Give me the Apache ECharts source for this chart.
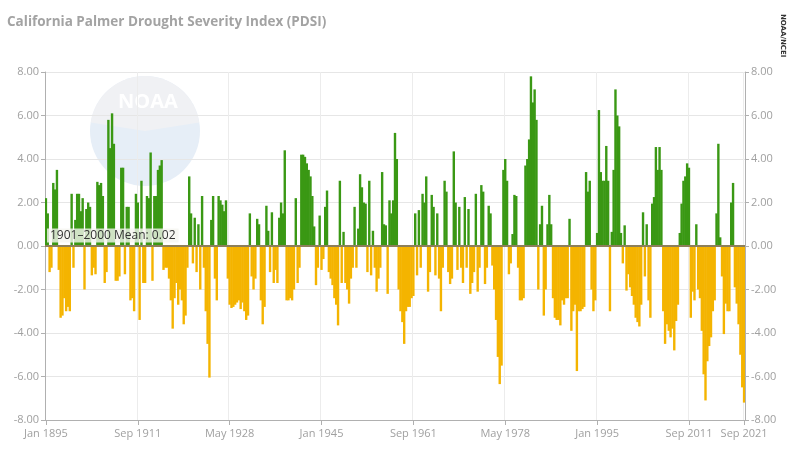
<!DOCTYPE html>
<html>
<head>
<meta charset="utf-8">
<script src="https://cdn.jsdelivr.net/npm/echarts@6/dist/echarts.min.js"></script>
<style>html,body{margin:0;padding:0;background:#fff;}#chart{width:800px;height:465px;}</style>
</head>
<body>
<div id="chart"></div>
<script>
// Time axis: one category every 4 months (Jan, May, Sep) from Jan 1895 to Sep 2021
const startYear = 1895;
const monthNames = ['Jan','Feb','Mar','Apr','May','Jun','Jul','Aug','Sep','Oct','Nov','Dec'];
const stepMonths = 4;
const shownLabels = ['Jan 1895','Sep 1911','May 1928','Jan 1945','Sep 1961','May 1978','Jan 1995','Sep 2011','Sep 2021'];
const yTicks = [-8, -6, -4, -2, 0, 2, 4, 6, 8];
const meanValue = 0.02;
const meanLabel = '1901–2000 Mean: 0.02';

// PDSI values, three per year (Jan–Apr, May–Aug, Sep–Dec)
const pdsi = [
  2.2, 1.5, -1.2,    // 1895
  -1.0, 2.9, 2.6,    // 1896
  3.5, -1.1, -3.3,   // 1897
  -3.2, -2.4, -3.0,  // 1898
  -2.8, -3.0, 2.4,   // 1899
  -1.0, 1.2, 2.4,    // 1900
  2.4, 1.6, 2.2,     // 1901
  -2.0, 1.7, 2.0,    // 1902
  1.8, -1.35, -1.0,  // 1903
  -1.3, 2.95, 2.8,   // 1904
  2.9, 2.3, -1.7,    // 1905
  -1.2, 5.8, 4.5,    // 1906
  6.1, 4.7, -1.6,    // 1907
  -1.6, -1.4, 3.6,   // 1908
  3.6, -1.3, 1.8,    // 1909
  1.8, -2.5, -2.4,   // 1910
  -3.0, 2.4, 2.0,    // 1911
  -3.4, 3.0, -1.7,   // 1912
  -1.7, 2.3, 2.2,    // 1913
  4.3, -1.6, 2.3,    // 1914
  2.3, 3.5, 3.7,     // 1915
  3.95, -1.1, -1.0,  // 1916
  -1.0, -1.5, -2.5,  // 1917
  -3.8, -2.4, -1.7,  // 1918
  -2.7, -2.0, -2.5,  // 1919
  -3.6, -3.2, -1.0,  // 1920
  3.2, 1.5, -0.8,    // 1921
  1.3, -1.2, 1.0,    // 1922
  -2.0, 2.3, -1.0,   // 1923
  -3.0, -4.5, -6.05, // 1924
  1.2, 2.3, -1.5,    // 1925
  -2.5, 2.3, 2.1,    // 1926
  1.9, 1.6, 2.1,     // 1927
  -1.5, -2.7, -2.85, // 1928
  -2.8, -2.7, -2.6,  // 1929
  -2.5, -2.9, -2.6,  // 1930
  -3.0, -3.4, -3.2,  // 1931
  1.5, -1.4, -2.0,   // 1932
  -1.5, 1.25, 1.0,   // 1933
  -2.5, -3.6, -2.8,  // 1934
  1.85, 0.7, -1.2,   // 1935
  1.55, -1.7, -1.1,  // 1936
  -1.7, 1.3, 2.0,    // 1937
  1.5, 4.4, -2.5,    // 1938
  -2.5, -2.4, -2.5,  // 1939
  -2.0, 2.2, -1.7,   // 1940
  -1.0, 4.2, 4.2,    // 1941
  4.1, 3.8, 3.5,     // 1942
  3.2, 2.3, 0.9,     // 1943
  -1.8, -1.0, 1.4,   // 1944
  -1.1, -0.6, 1.8,   // 1945
  2.55, -1.2, -1.5,  // 1946
  -1.8, -2.4, -2.7,  // 1947
  -3.65, 3.0, -1.7,  // 1948
  0.65, -1.7, -2.0,  // 1949
  -2.65, -1.5, -1.0, // 1950
  1.8, -1.0, 0.8,    // 1951
  3.3, 2.7, 2.0,     // 1952
  1.95, -1.2, 3.0,   // 1953
  -1.35, 0.7, -1.0,  // 1954
  -2.1, -1.5, -1.0,  // 1955
  3.4, 1.0, 0.95,    // 1956
  -2.2, 2.1, 1.5,    // 1957
  2.1, 5.2, 4.0,     // 1958
  -2.0, -3.0, -3.5,  // 1959
  -4.5, -3.0, -2.8,  // 1960
  -2.8, -2.4, -2.3,  // 1961
  1.5, -1.35, 1.65,  // 1962
  -1.0, 2.4, 2.0,    // 1963
  3.2, -2.1, -1.2,   // 1964
  2.35, 1.8, -1.35,  // 1965
  1.5, -1.5, -3.0,   // 1966
  -1.0, 3.0, 2.5,    // 1967
  -1.2, -1.75, -1.5, // 1968
  4.35, 2.0, -1.1,   // 1969
  1.8, -1.0, -1.7,   // 1970
  2.25, -1.0, 1.7,   // 1971
  -2.2, -1.7, -1.2,  // 1972
  2.4, -2.1, -1.0,   // 1973
  2.8, 2.5, -1.75,   // 1974
  -1.0, 1.85, 1.5,   // 1975
  -0.9, -2.0, -3.4,  // 1976
  -5.1, -6.35, -5.5, // 1977
  3.5, 4.0, 3.0,     // 1978
  -1.3, -0.8, 0.55,  // 1979
  2.35, 2.3, -1.0,   // 1980
  -2.5, -2.5, -2.4,  // 1981
  3.7, 4.0, 4.9,     // 1982
  7.8, 6.6, 7.2,     // 1983
  5.8, -2.0, 1.0,    // 1984
  1.85, -3.2, -2.0,  // 1985
  1.0, 2.35, 1.0,    // 1986
  -2.4, -3.3, -3.4,  // 1987
  -3.4, -3.65, -2.5, // 1988
  -2.7, -2.4, -2.4,  // 1989
  1.25, -3.9, -3.0,  // 1990
  -2.7, -5.75, -3.0, // 1991
  -3.0, -2.9, -2.8,  // 1992
  3.4, 2.5, 3.0,     // 1993
  -2.0, -3.0, -2.5,  // 1994
  0.6, 6.25, 3.4,    // 1995
  3.0, 3.0, 4.6,     // 1996
  3.0, -3.0, 0.65,   // 1997
  3.5, 7.2, 6.0,     // 1998
  5.5, 0.6, -0.8,    // 1999
  0.95, -2.05, -1.3, // 2000
  -1.9, -2.3, -2.7,  // 2001
  -3.3, -3.5, -3.7,  // 2002
  -2.7, 1.55, -1.4,  // 2003
  1.0, -2.5, -3.3,   // 2004
  1.95, 2.25, 4.55,  // 2005
  3.5, 4.55, 3.5,    // 2006
  -3.0, -4.5, -3.6,  // 2007
  -3.9, -4.2, -3.8,  // 2008
  -4.8, -3.45, -2.7, // 2009
  0.6, 1.95, 3.0,    // 2010
  3.2, 3.8, 3.6,     // 2011
  -3.3, -2.1, -2.5,  // 2012
  1.0, -2.0, -2.4,   // 2013
  -3.9, -5.9, -7.1,  // 2014
  -5.3, -4.6, -4.2,  // 2015
  -3.0, -2.5, 1.5,   // 2016
  4.7, 0.4, -1.4,    // 2017
  -4.05, -2.65, -3.0,// 2018
  -3.0, 2.0, 2.9,    // 2019
  -1.9, -2.65, -3.6, // 2020
  -5.0, -6.5, -7.2   // 2021 (Jan, May, Sep)
];

const categories = pdsi.map(function (v, i) {
  const m = i * stepMonths;
  return monthNames[m % 12] + ' ' + (startYear + Math.floor(m / 12));
});

const GREEN = '#3a9814';
const YELLOW = '#f4b400';

const chart = echarts.init(document.getElementById('chart'), null, {renderer: 'canvas'});

const labelShown = function (idx, val) { return shownLabels.indexOf(categories[idx]) >= 0; };

const yAxisCommon = {
  type: 'value',
  min: yTicks[0],
  max: yTicks[yTicks.length - 1],
  interval: 2,
  axisLine: {show: true, lineStyle: {color: '#b0b0b0'}},
  axisTick: {show: true, length: 4, lineStyle: {color: '#b0b0b0'}},
  axisLabel: {color: '#a0a0a0', fontSize: 11, fontFamily: 'Open Sans', margin: 6,
    formatter: function (v) { return v.toFixed(2); }},
};

chart.setOption({
  animation: false,
  backgroundColor: '#ffffff',
  title: {
    text: 'California Palmer Drought Severity Index (PDSI)',
    left: 2, top: 10,
    textStyle: {color: '#a3a3a3', fontSize: 13.5, fontWeight: 'bold', fontFamily: 'Open Sans'}
  },
  graphic: [
    {type: 'circle', shape: {cx: 145, cy: 131, r: 55}, style: {fill: '#e6eef7'}, z: -10, silent: true},
    {type: 'sector', shape: {cx: 145, cy: 131, r: 55, r0: 0, startAngle: Math.PI * 1.05, endAngle: Math.PI * 1.95},
      style: {fill: '#f0f1f4'}, z: -9, silent: true},
    {type: 'text', left: 118, top: 92, style: {text: 'NOAA', fill: '#ffffff', font: 'bold 20px "Open Sans"'}, z: -8, silent: true},
    {type: 'text', x: 786, y: 14, rotation: -Math.PI / 2,
      style: {text: 'NOAA/NCEI', fill: '#333333', font: 'bold 7px "DejaVu Sans"'}, silent: true}
  ],
  grid: {left: 45, right: 55, top: 72, bottom: 45, containLabel: false},
  xAxis: {
    type: 'category',
    data: categories,
    boundaryGap: true,
    axisLine: {show: true, onZero: false, lineStyle: {color: '#b0b0b0'}},
    axisTick: {show: true, alignWithLabel: true, interval: labelShown, length: 5, lineStyle: {color: '#b0b0b0'}},
    axisLabel: {interval: labelShown, color: '#a0a0a0', fontSize: 11, fontFamily: 'Open Sans', margin: 8},
    splitLine: {show: true, interval: labelShown, lineStyle: {color: '#ececec'}}
  },
  yAxis: [
    Object.assign({}, yAxisCommon, {position: 'left', splitLine: {show: true, lineStyle: {color: '#e6e6e6'}}}),
    Object.assign({}, yAxisCommon, {position: 'right', splitLine: {show: false}})
  ],
  series: [{
    type: 'bar',
    data: pdsi,
    barWidth: 2.4,
    itemStyle: {color: function (p) { return p.value >= 0 ? GREEN : YELLOW; }},
    markLine: {
      silent: true,
      symbol: 'none',
      data: [{yAxis: meanValue}],
      lineStyle: {color: '#8d7f5a', width: 2, type: 'solid'},
      label: {
        show: true, position: 'insideStartTop', formatter: meanLabel, distance: [2, 3],
        color: '#333333', fontSize: 12, fontFamily: 'Open Sans',
        backgroundColor: 'rgba(245,245,240,0.8)', padding: [1, 3]
      }
    }
  }]
});
</script>
</body>
</html>
